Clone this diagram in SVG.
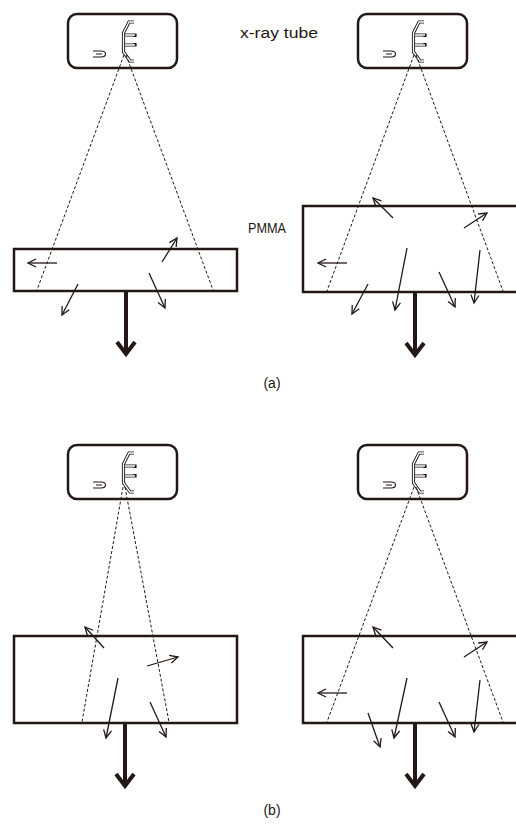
<svg xmlns="http://www.w3.org/2000/svg" width="516" height="828" viewBox="0 0 516 828">
  <style>
    .box { fill: #fff; stroke: #231815; stroke-width: 2.5; }
    .tube { fill: #fff; stroke: #231815; stroke-width: 2.5; }
    .wallo { fill: none; stroke: #231815; stroke-width: 3.2; stroke-linejoin: miter; }
    .walli { fill: none; stroke: #fff; stroke-width: 1.3; stroke-linejoin: miter; }
    .cath { fill: none; stroke: #231815; stroke-width: 1.1; }
    .beam { fill: none; stroke: #231815; stroke-width: 1; stroke-dasharray: 3 2; }
    .ray { fill: none; stroke: #231815; stroke-width: 1.3; marker-end: url(#head); }
    .out { fill: none; stroke: #231815; stroke-width: 4; stroke-linejoin: miter; }
    text { font-family: "Liberation Sans", Arial, sans-serif; fill: #231815; }
  </style>
  <defs>
    <marker id="head" markerUnits="userSpaceOnUse" markerWidth="12" markerHeight="12" refX="9" refY="5" orient="auto">
      <path d="M1,1 L9,5 L1,9" fill="none" stroke="#231815" stroke-width="1.3"/>
    </marker>
    <!-- x-ray tube: housing, anode and filament; origin at housing top-left -->
    <g id="tube">
      <rect class="tube" x="0" y="0" width="109" height="54" rx="9"/>
      <path class="wallo" d="M66,8 L61,8 L55.5,19 L55.5,38 L62,47 L66,47"/>
      <path class="wallo" d="M57,21 L67,21 L67,23 M57,31 L67,31 L67,29"/>
      <path class="walli" d="M66,8 L61,8 L55.5,19 L55.5,38 L62,47 L66,47"/>
      <path class="walli" d="M57,21 L67,21 M57,31 L67,31"/>
      <path class="cath" d="M25,37 L33,37 Q37.5,37 37.5,40 Q37.5,43 33,43 L25,43 M28,40 L34,40"/>
    </g>
  </defs>

  <!-- (a) thin phantom -->
  <g id="a-left">
    <use href="#tube" x="68" y="14"/>
    <rect class="box" x="14" y="249" width="223" height="42"/>
  </g>
  <!-- (a) thick phantom -->
  <g id="a-right">
    <use href="#tube" x="358" y="14"/>
    <rect class="box" x="303" y="206" width="220" height="86"/>
  </g>
  <!-- (b) thin-beam -->
  <g id="b-left">
    <use href="#tube" x="68" y="445"/>
    <rect class="box" x="14" y="636" width="223" height="87"/>
  </g>
  <!-- (b) wide-beam -->
  <g id="b-right">
    <use href="#tube" x="358" y="445"/>
    <rect class="box" x="303" y="636" width="220" height="87"/>
  </g>

  <g id="labels">
    <text x="240" y="38" font-size="14" textLength="78" lengthAdjust="spacingAndGlyphs">x-ray tube</text>
    <text x="248" y="233" font-size="15" textLength="38" lengthAdjust="spacingAndGlyphs">PMMA</text>
    <text x="272" y="388" font-size="14" text-anchor="middle">(a)</text>
    <text x="272" y="815" font-size="14" text-anchor="middle">(b)</text>
  </g>

  <g id="connectors">
    <!-- beams -->
    <path class="beam" d="M124,55 L37,290 M126,55 L213,290"/>
    <path class="beam" d="M414,55 L327,291 M416,55 L503,291"/>
    <path class="beam" d="M123,487 L82,722 M125,487 L169,722"/>
    <path class="beam" d="M414,487 L327,722 M416,487 L503,722"/>

    <!-- scattered photons (a) left -->
    <path class="ray" d="M57,263 L28,263"/>
    <path class="ray" d="M162,262 L177,238"/>
    <path class="ray" d="M78,284 L62,315"/>
    <path class="ray" d="M149,273 L165,308"/>

    <!-- scattered photons (a) right -->
    <path class="ray" d="M393,218 L373,198"/>
    <path class="ray" d="M464,228 L487,213"/>
    <path class="ray" d="M347,263 L318,263"/>
    <path class="ray" d="M368,284 L352,314"/>
    <path class="ray" d="M407,248 L395,310"/>
    <path class="ray" d="M439,272 L455,307"/>
    <path class="ray" d="M480,250 L474,303"/>

    <!-- scattered photons (b) left -->
    <path class="ray" d="M104,648 L85,627"/>
    <path class="ray" d="M147,666 L178,657"/>
    <path class="ray" d="M118,678 L106,738"/>
    <path class="ray" d="M150,702 L166,737"/>

    <!-- scattered photons (b) right -->
    <path class="ray" d="M393,648 L373,627"/>
    <path class="ray" d="M464,657 L487,642"/>
    <path class="ray" d="M347,693 L318,693"/>
    <path class="ray" d="M368,713 L380,747"/>
    <path class="ray" d="M407,678 L394,738"/>
    <path class="ray" d="M439,702 L455,737"/>
    <path class="ray" d="M480,680 L474,732"/>

    <!-- primary transmitted beam -->
    <path class="out" d="M126,291 L126,354 M117,342 L126,354 L135,342"/>
    <path class="out" d="M415,292 L415,355 M406,343 L415,355 L424,343"/>
    <path class="out" d="M125,723 L125,786 M116,774 L125,786 L134,774"/>
    <path class="out" d="M415,723 L415,786 M406,774 L415,786 L424,774"/>
  </g>
</svg>
